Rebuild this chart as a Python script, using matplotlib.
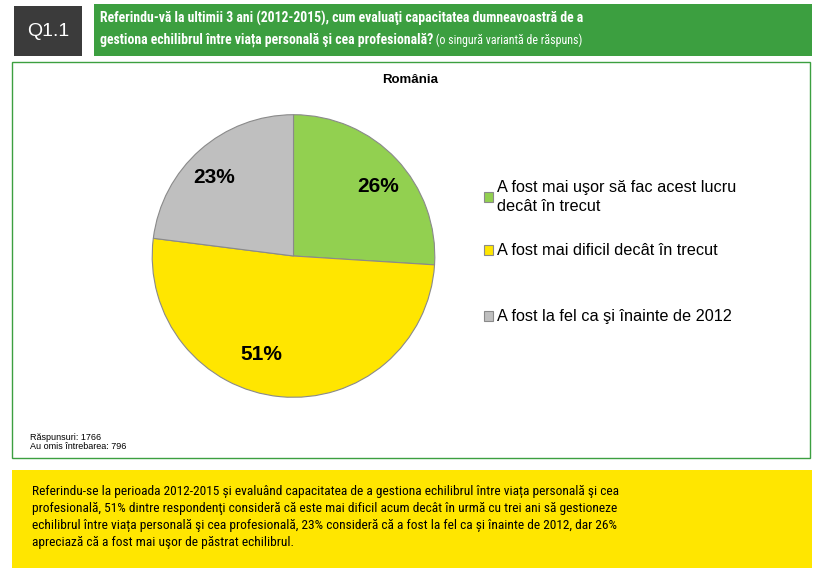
import matplotlib.pyplot as plt
from matplotlib.patches import Rectangle

# Date
categorii = ['A fost mai uşor să fac acest lucru\ndecât în trecut',
             'A fost mai dificil decât în trecut',
             'A fost la fel ca şi înainte de 2012']
procente = [26, 51, 23]
culori = ['#92d050', '#ffe600', '#bfbfbf']

titlu = 'România'
intrebare_1 = 'Referindu-vă la ultimii 3 ani (2012-2015), cum evaluaţi capacitatea dumneavoastră de a'
intrebare_2 = 'gestiona echilibrul între viața personală şi cea profesională?'
nota_intrebare = ' (o singură variantă de răspuns)'
note = 'Răspunsuri: 1766\nAu omis întrebarea: 796'
concluzie = ('Referindu-se la perioada 2012-2015 și evaluând capacitatea de a gestiona echilibrul între viața personală şi cea\n'
             'profesională, 51% dintre respondenţi consideră că este mai dificil acum decât în urmă cu trei ani să gestioneze\n'
             'echilibrul între viața personală şi cea profesională, 23% consideră că a fost la fel ca și înainte de 2012, dar 26%\n'
             'apreciază că a fost mai uşor de păstrat echilibrul.')

plt.rcParams['font.family'] = ['Liberation Sans', 'DejaVu Sans']
narrow = ['Liberation Sans Narrow', 'Arial Narrow', 'Roboto Condensed',
          'PT Sans Narrow', 'Archivo Narrow', 'Liberation Sans', 'DejaVu Sans']

W, H = 820, 572
fig = plt.figure(figsize=(8.2, 5.72), dpi=100)
fig.patch.set_facecolor('white')

def box(x, y, w, h, **kw):
    # coordonate in pixeli, y de sus
    fig.add_artist(Rectangle((x / W, 1 - (y + h) / H), w / W, h / H,
                             transform=fig.transFigure, **kw))

# Antet
box(14, 6, 68, 50, facecolor='#3b3b3b', edgecolor='none')
fig.text(48 / W, 1 - 31 / H, 'Q1.1', color='white', fontsize=14,
         ha='center', va='center')
box(94, 4, 718, 52, facecolor='#3c9f40', edgecolor='none')
fig.text(100 / W, 1 - 18 / H, intrebare_1, color='white', fontsize=9.9,
         fontweight='bold', family=narrow, va='center')
t2 = fig.text(100 / W, 1 - 40 / H, intrebare_2, color='white', fontsize=9.9,
              fontweight='bold', family=narrow, va='center')
fig.add_artist(plt.Annotation(nota_intrebare, xy=(1, 0), xycoords=t2,
                              va='bottom', ha='left', color='white',
                              fontsize=8.6, family=narrow))

# Cadrul graficului
box(12, 62, 798, 396, facecolor='none', edgecolor='#3c9f40', linewidth=1)
fig.text(410 / W, 1 - 80 / H, titlu, fontsize=9.5, fontweight='bold',
         ha='center', va='center')

cx, cy, r = 293.5, 256, 142
ax = fig.add_axes([(cx - r) / W, 1 - (cy + r) / H, 2 * r / W, 2 * r / H])
wedges, texte, pct = ax.pie(procente, colors=culori, startangle=90,
                            counterclock=False, autopct='%d%%',
                            pctdistance=0.72,
                            wedgeprops=dict(edgecolor='#8a8a8a', linewidth=0.8))
# pozitia etichetelor (ca in Excel)
poz_etichete = [(0.60, 0.49), (-0.225, -0.70), (-0.56, 0.556)]
for p, xy in zip(pct, poz_etichete):
    p.set_position(xy)
    p.set_fontsize(15)
    p.set_fontweight('bold')
ax.set_xlim(-1.005, 1.005)
ax.set_ylim(-1.005, 1.005)
ax.set_aspect('equal')

# legenda, cate o intrare
y_legenda = [197, 251, 317]
for w, lab, yl in zip(wedges, categorii, y_legenda):
    leg = fig.legend([w], [lab], loc='center left',
                     bbox_to_anchor=(484 / W, 1 - yl / H), frameon=False,
                     fontsize=11.7, handlelength=0.55, handleheight=0.55,
                     handletextpad=0.25, borderpad=0, borderaxespad=0)
    for t in leg.get_texts():
        t.set_linespacing(1.35)

fig.text(30 / W, 1 - 442 / H, note, fontsize=6.5, va='center',
         linespacing=1.1)

# Concluzie
box(12, 470, 800, 98, facecolor='#ffe600', edgecolor='none')
fig.text(32 / W, 1 - 517 / H, concluzie, fontsize=9.6, family=narrow,
         va='center', linespacing=1.4)

fig.savefig('out.png', dpi=100)
